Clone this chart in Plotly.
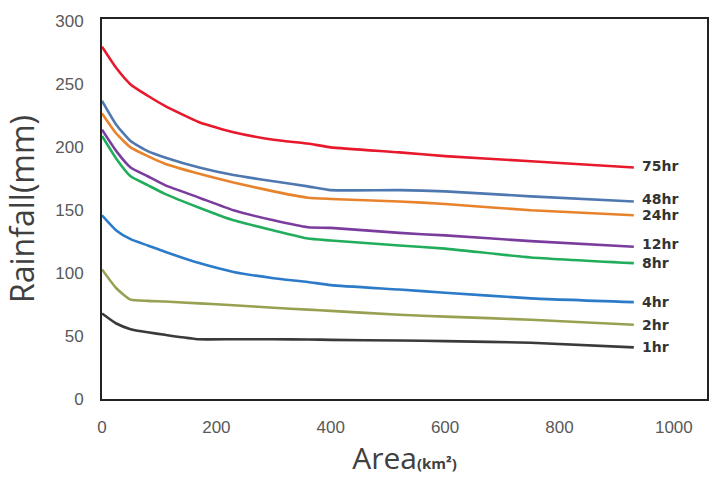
import plotly.graph_objects as go

area = [0, 25, 50, 80, 110, 170, 230, 300, 360, 400, 520, 600, 750, 930]

r75 = [280, 263, 250, 241, 233, 220, 212, 206, 203, 200, 196, 193, 189, 184]
r48 = [237, 218, 205, 197, 192, 184, 178, 173, 169, 166, 166, 165, 161, 157]
r24 = [227, 211, 200, 193, 187, 179, 172, 165, 160, 159, 157, 155, 150, 146]
r12 = [214, 197, 184, 177, 170, 160, 150, 142, 136.5, 136, 132, 130, 125.5, 121]
r8 = [209, 191, 177, 170, 163, 152, 142, 134, 127.5, 126, 122, 119.5, 112.5, 108]
r4 = [146, 134, 127, 122, 117, 108, 101, 96, 93, 90.5, 87, 84.5, 80, 77]
r2 = [103, 88, 79, 78, 77.5, 76, 74.5, 72.5, 71, 70, 67, 65.5, 63, 59]
r1 = [68, 60, 55.5, 53, 51, 47.5, 47.5, 47.5, 47.3, 47, 46.5, 46, 44.7, 41]

series_names = ["75hr", "48hr", "24hr", "12hr", "8hr", "4hr", "2hr", "1hr"]
series_values = [r75, r48, r24, r12, r8, r4, r2, r1]
colors = ["#e8192c", "#4f78b0", "#e8832c", "#7a3d9e", "#22ad5c", "#2b7bc8", "#98a052", "#3a3a3a"]
label_dy = [1, 2, 0, 2, 0, 0, 0, 0]

y_ticks = [0, 50, 100, 150, 200, 250, 300]
x_ticks = [0, 200, 400, 600, 800, 1000]

fig = go.Figure()
for name, vals, col in zip(series_names, series_values, colors):
    fig.add_trace(go.Scatter(x=area, y=vals, mode="lines", name=name,
                             line=dict(color=col, width=2.6, shape="spline", smoothing=0.5)))

for name, vals, dy in zip(series_names, series_values, label_dy):
    fig.add_annotation(x=area[-1], y=vals[-1] + dy, text="<b>" + name + "</b>",
                       showarrow=False, xanchor="left", yanchor="middle", xshift=6,
                       font=dict(family="DejaVu Sans", size=14, color="#333333"))

fig.update_layout(
    width=721, height=480,
    margin=dict(l=102, r=12, t=15, b=81),
    paper_bgcolor="white", plot_bgcolor="white",
    showlegend=False,
    font=dict(family="Liberation Sans", color="#595959"),
)
fig.update_xaxes(range=[0, 1058], tickvals=x_ticks, showgrid=False, zeroline=False,
                 showline=True, linecolor="#222222", linewidth=2, mirror=True,
                 ticks="", ticklabelstandoff=12,
                 tickfont=dict(family="Liberation Sans", size=17, color="#595959"),
                 title=dict(text="Area<b><span style='font-size:15px'>(km²)</span></b>",
                            font=dict(family="Open Sans", size=30, color="#404040"),
                            standoff=4))
fig.update_yaxes(range=[0, 302], tickvals=y_ticks, showgrid=False, zeroline=False,
                 showline=True, linecolor="#222222", linewidth=2, mirror=True,
                 ticks="", ticklabelstandoff=13,
                 tickfont=dict(family="Liberation Sans", size=17, color="#595959"),
                 title=dict(text="Rainfall(mm)",
                            font=dict(family="Open Sans", size=32, color="#404040"),
                            standoff=16))

fig.write_html("out.html")
